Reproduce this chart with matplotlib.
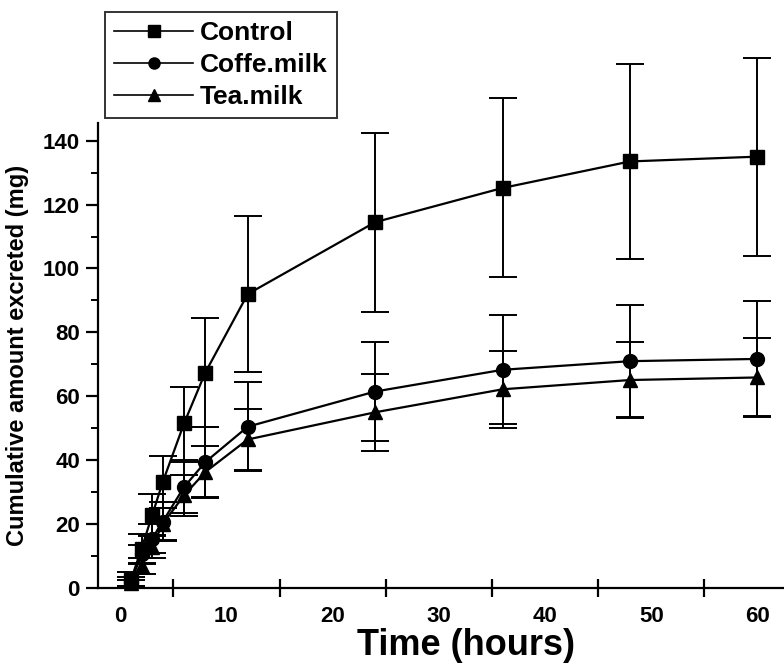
import matplotlib
matplotlib.use("Agg")
import matplotlib.pyplot as plt
from matplotlib.ticker import MultipleLocator, FixedLocator
from matplotlib.lines import Line2D

time_h = [1, 2, 3, 4, 6, 8, 12, 24, 36, 48, 60]
control = [2.5, 12.3, 22.8, 33.2, 51.5, 67.4, 92.0, 114.5, 125.2, 133.5, 135.0]
control_err = [2.5, 4.5, 6.5, 8.0, 11.5, 17.0, 24.5, 28.0, 28.0, 30.5, 31.0]
coffee = [2.0, 10.5, 15.5, 20.8, 31.6, 39.4, 50.5, 61.5, 68.3, 71.0, 71.7]
coffee_err = [1.5, 3.0, 4.5, 6.0, 8.0, 11.0, 14.0, 15.5, 17.0, 17.5, 18.0]
tea = [1.5, 6.9, 13.0, 20.1, 29.0, 36.3, 46.5, 55.0, 62.2, 65.1, 65.9]
tea_err = [1.0, 2.5, 3.5, 5.0, 6.5, 8.0, 9.5, 12.0, 12.0, 12.0, 12.5]
labels = ["Control", "Coffe.milk", "Tea.milk"]
x_ticks = [0, 10, 20, 30, 40, 50, 60]
y_ticks = [0, 20, 40, 60, 80, 100, 120, 140]

plt.rcParams['font.family'] = ['Liberation Sans', 'DejaVu Sans']
plt.rcParams['font.weight'] = 'bold'

fig = plt.figure(figsize=(7.84, 6.69), dpi=100)
ax = fig.add_axes([0.125, 0.121, 0.875, 0.695])

series = [(control, control_err, 's'), (coffee, coffee_err, 'o'), (tea, tea_err, '^')]
handles = []
for (vals, errs, mk), lab in zip(series, labels):
    ln, caps, bars = ax.errorbar(time_h, vals, yerr=errs, color='black', lw=1.6, marker=mk,
                                 markersize=10, markerfacecolor='black', markeredgecolor='black',
                                 ecolor='black', elinewidth=1.4, capsize=10, capthick=1.4, zorder=3)
    ln.set_clip_on(False)
    for c in caps:
        c.set_clip_on(False)
    for b in bars:
        b.set_clip_on(False)
    handles.append(Line2D([0], [0], color='black', lw=1.2, marker=mk, markersize=8,
                          markerfacecolor='black', markeredgecolor='black'))

ax.set_xlim(-2.1, 62.5)
ax.set_ylim(0, 145.5)
ax.spines['top'].set_visible(False)
ax.spines['right'].set_visible(False)
for s in ['left', 'bottom']:
    ax.spines[s].set_linewidth(1.6)

ax.xaxis.set_major_locator(FixedLocator(x_ticks))
ax.xaxis.set_minor_locator(FixedLocator([5, 15, 25, 35, 45, 55]))
ax.tick_params(axis='x', which='major', length=0, pad=13, labelsize=16)
ax.tick_params(axis='x', which='minor', direction='inout', length=13, width=1.6)
ax.yaxis.set_major_locator(FixedLocator(y_ticks))
ax.yaxis.set_minor_locator(MultipleLocator(10))
ax.tick_params(axis='y', which='major', direction='out', length=9, width=1.6, labelsize=16, pad=4)
ax.tick_params(axis='y', which='minor', direction='out', length=5, width=1.4)
for t in ax.get_xticklabels() + ax.get_yticklabels():
    t.set_fontweight('bold')

ax.set_xlabel("Time (hours)", fontsize=26, fontweight='bold')
ax.xaxis.set_label_coords(0.536, -0.085)
ax.set_ylabel("Cumulative amount excreted (mg)", fontsize=17, fontweight='bold')
ax.yaxis.set_label_coords(-0.101, 0.5)

leg = fig.legend(handles, labels, loc='upper left', bbox_to_anchor=(0.134, 0.982),
                 frameon=True, fancybox=False, edgecolor='black', handlelength=3.0,
                 prop={'weight': 'bold', 'size': 19}, borderpad=0.35, labelspacing=0.3,
                 handletextpad=0.25, borderaxespad=0)
leg.get_frame().set_linewidth(1.4)

fig.savefig("out.png", dpi=100)
